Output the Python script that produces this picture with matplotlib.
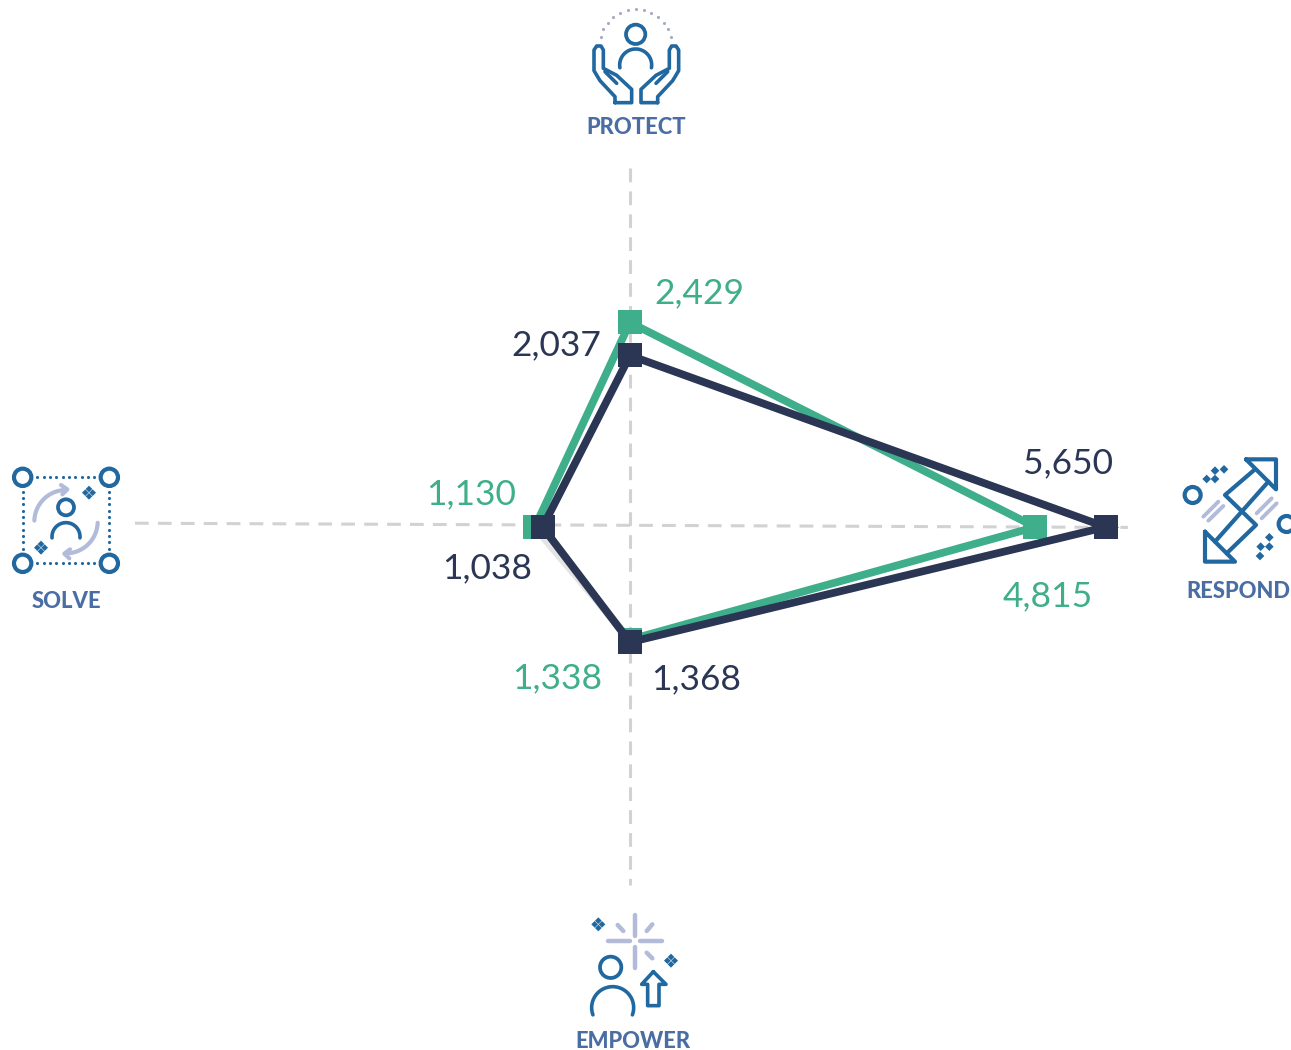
import numpy as np
import matplotlib
matplotlib.use('Agg')
import matplotlib.pyplot as plt
from matplotlib.patches import Circle, Polygon

""" DATA """
categories = ['PROTECT', 'RESPOND', 'EMPOWER', 'SOLVE']
green_values = [2429, 4815, 1338, 1130]
navy_values = [2037, 5650, 1368, 1038]
green_labels = ['2,429', '4,815', '1,338', '1,130']
navy_labels = ['2,037', '5,650', '1,368', '1,038']
""" DATA """

GREEN = '#3fae8a'
NAVY = '#2b3654'
GRID = '#d2d2d2'
BLUE = '#20689f'
LAV = '#b3bbda'
DOT = '#a4a9c4'
TITLE = '#4a6da3'

W, H = 1291, 1050
cx, cy = 630, 527
scale = 0.0842  # px per unit

plt.rcParams['font.family'] = ['Lato', 'DejaVu Sans']

fig = plt.figure(figsize=(W / 100, H / 100), dpi=100)
ax = fig.add_axes([0, 0, 1, 1])
ax.set_xlim(-cx / scale, (W - cx) / scale)
ax.set_ylim(-(H - cy) / scale, cy / scale)
ax.axis('off')

# pixel axes for the icons, y goes down like in the picture
ix = fig.add_axes([0, 0, 1, 1])
ix.set_xlim(0, W)
ix.set_ylim(H, 0)
ix.axis('off')
ix.patch.set_alpha(0)


def to_xy(values):
	# order is up, right, down, left
	xs = [0, values[1], 0, -values[3]]
	ys = [values[0], 0, -values[2], 0]
	return xs, ys


def draw_series(values, color, z, closing=None):
	xs, ys = to_xy(values)
	if closing is None:
		ax.plot(xs + xs[:1], ys + ys[:1], color=color, lw=5.6, solid_joinstyle='miter', zorder=z)
	else:
		# the green ring has its last side washed out in the original
		ax.plot(xs[2:], ys[2:], color=closing, lw=5.6, zorder=z)
		ax.plot(xs[3:] + xs[:3], ys[3:] + ys[:3], color=color, lw=5.6, solid_joinstyle='miter', zorder=z)
	ax.plot(xs, ys, ls='none', marker='s', ms=17.4, mfc=color, mec=color, mew=0, zorder=z + 0.5)


def draw_labels(values, labels, offsets, color):
	xs, ys = to_xy(values)
	for x, y, t, o in zip(xs, ys, labels, offsets):
		ax.annotate(t, xy=(x, y), xytext=o, textcoords='offset pixels', color=color,
			fontsize=25.5, ha='center', va='center', zorder=10)


# grid lines
ax.plot([0, 0], [4264, -4252], color=GRID, lw=2.2, dashes=(4.5, 3), zorder=1)
ax.plot([-5879, 5914], [45, -5], color=GRID, lw=2.2, dashes=(4.5, 3), zorder=1)

draw_series(green_values, GREEN, 3, closing='#e4e4e4')
draw_series(navy_values, NAVY, 5)

draw_labels(green_values, green_labels, [(69, 29), (12, -69), (-73, -39), (-64, 33)], GREEN)
draw_labels(navy_values, navy_labels, [(-74, 10), (-38, 64), (66, -37), (-55, -41)], NAVY)

title_pos = [(636, 128), (1238, 591), (633, 1042), (66, 602)]
for name, p in zip(categories, title_pos):
	ix.text(p[0], p[1], name, color=TITLE, fontsize=15.8, fontweight='black', ha='center', va='center')


""" icon helpers, coords are read from 3x crops """
def line(pts, ox, oy, color=BLUE, lw=2.6, closed=False):
	p = np.array(pts, dtype=float) / 3 + [ox, oy]
	if closed:
		p = np.vstack([p, p[:1]])
	ix.plot(p[:, 0], p[:, 1], color=color, lw=lw, solid_capstyle='round', solid_joinstyle='round')


def ring(x, y, r, ox, oy, color=BLUE, lw=2.7):
	ix.add_patch(Circle((ox + x / 3, oy + y / 3), r / 3, fc='none', ec=color, lw=lw))


def arc(x, y, r, a0, a1, ox, oy, color=BLUE, lw=2.6):
	t = np.radians(np.linspace(a0, a1, 60))
	ix.plot(ox + (x + r * np.cos(t)) / 3, oy + (y - r * np.sin(t)) / 3, color=color, lw=lw, solid_capstyle='round')


def diamond(x, y, ox, oy, s=12):
	q = np.array([(0, -s), (s, 0), (0, s), (-s, 0)], dtype=float) + [x, y]
	ix.add_patch(Polygon(q / 3 + [ox, oy], fc=BLUE, ec='none'))


def clover(x, y, ox, oy, d=11):
	# four little diamonds
	for dx, dy in [(-d, 0), (d, 0), (0, -d), (0, d)]:
		diamond(x + dx, y + dy, ox, oy, s=10)


# protect
ox, oy = 570, 0
ring(197, 103, 29, ox, oy)
arc(197, 195, 48, 190, -10, ox, oy)
t = np.radians(np.linspace(167, 13, 13))
ix.scatter(ox + (197 + 108 * np.cos(t)) / 3, oy + (135 - 108 * np.sin(t)) / 3, s=5, color=DOT, lw=0)
hand = [(135, 308), (185, 308), (185, 268), (140, 226), (100, 205), (100, 150), (93, 138), (80, 138), (72, 150), (72, 212), (90, 242), (135, 290)]
thumb = [(105, 215), (140, 250)]
line(hand, ox, oy, closed=True)
line(thumb, ox, oy)
line([(398 - a, b) for a, b in hand], ox, oy, closed=True)
line([(398 - a, b) for a, b in thumb], ox, oy)

# solve
ox, oy = 0, 455
for a, b in [(68, 67), (328, 67), (68, 325), (328, 325)]:
	ring(a, b, 26, ox, oy, lw=3)
v = np.arange(112, 290, 19)
ix.scatter(ox + v / 3, oy + np.full(len(v), 67) / 3, s=5, color=BLUE, lw=0)
ix.scatter(ox + v / 3, oy + np.full(len(v), 325) / 3, s=5, color=BLUE, lw=0)
v = np.arange(110, 290, 19)
ix.scatter(ox + np.full(len(v), 68) / 3, oy + v / 3, s=5, color=BLUE, lw=0)
ix.scatter(ox + np.full(len(v), 328) / 3, oy + v / 3, s=5, color=BLUE, lw=0)
ring(198, 157, 24, ox, oy)
arc(198, 245, 42, 185, -5, ox, oy)
arc(198, 200, 95, 178, 92, ox, oy, color=LAV, lw=3)
line([(183, 90), (202, 103), (187, 118)], ox, oy, color=LAV, lw=3)
arc(198, 200, 95, -2, -88, ox, oy, color=LAV, lw=3)
line([(210, 283), (193, 296), (208, 310)], ox, oy, color=LAV, lw=3)
clover(267, 113, ox, oy)
clover(123, 278, ox, oy)

# respond
ox, oy = 1170, 450
line([(228, 28), (318, 28), (318, 118)], ox, oy, lw=3, closed=True)
line([(105, 245), (105, 335), (195, 335)], ox, oy, lw=3, closed=True)
line([(255, 58), (165, 135), (258, 225), (170, 310)], ox, oy, lw=3)
line([(295, 95), (135, 275)], ox, oy, lw=3)
for seg in [[(100, 200), (145, 155)], [(115, 212), (160, 168)], [(260, 190), (305, 145)], [(275, 205), (320, 160)]]:
	line(seg, ox, oy, color=LAV, lw=2.8)
ring(68, 135, 24, ox, oy, lw=3)
ring(350, 222, 24, ox, oy, lw=3)
for a, b in [(110, 87), (135, 87), (135, 62), (162, 58), (298, 262), (298, 290), (272, 290), (270, 318)]:
	diamond(a, b, ox, oy, s=13)

# empower
ox, oy = 565, 905
for seg in [[(210, 30), (210, 93)], [(210, 125), (210, 190)], [(130, 107), (195, 107)], [(225, 107), (290, 107)],
		[(158, 60), (175, 78)], [(245, 78), (262, 58)], [(245, 143), (262, 160)]]:
	line(seg, ox, oy, color=LAV, lw=3.2)
clover(100, 58, ox, oy)
clover(318, 167, ox, oy)
ring(137, 187, 32, ox, oy)
arc(143, 308, 63, 200, -20, ox, oy)
line([(265, 200), (230, 238), (248, 238), (248, 302), (282, 302), (282, 238), (303, 238)], ox, oy, closed=True)

fig.savefig('out.png', dpi=100)
